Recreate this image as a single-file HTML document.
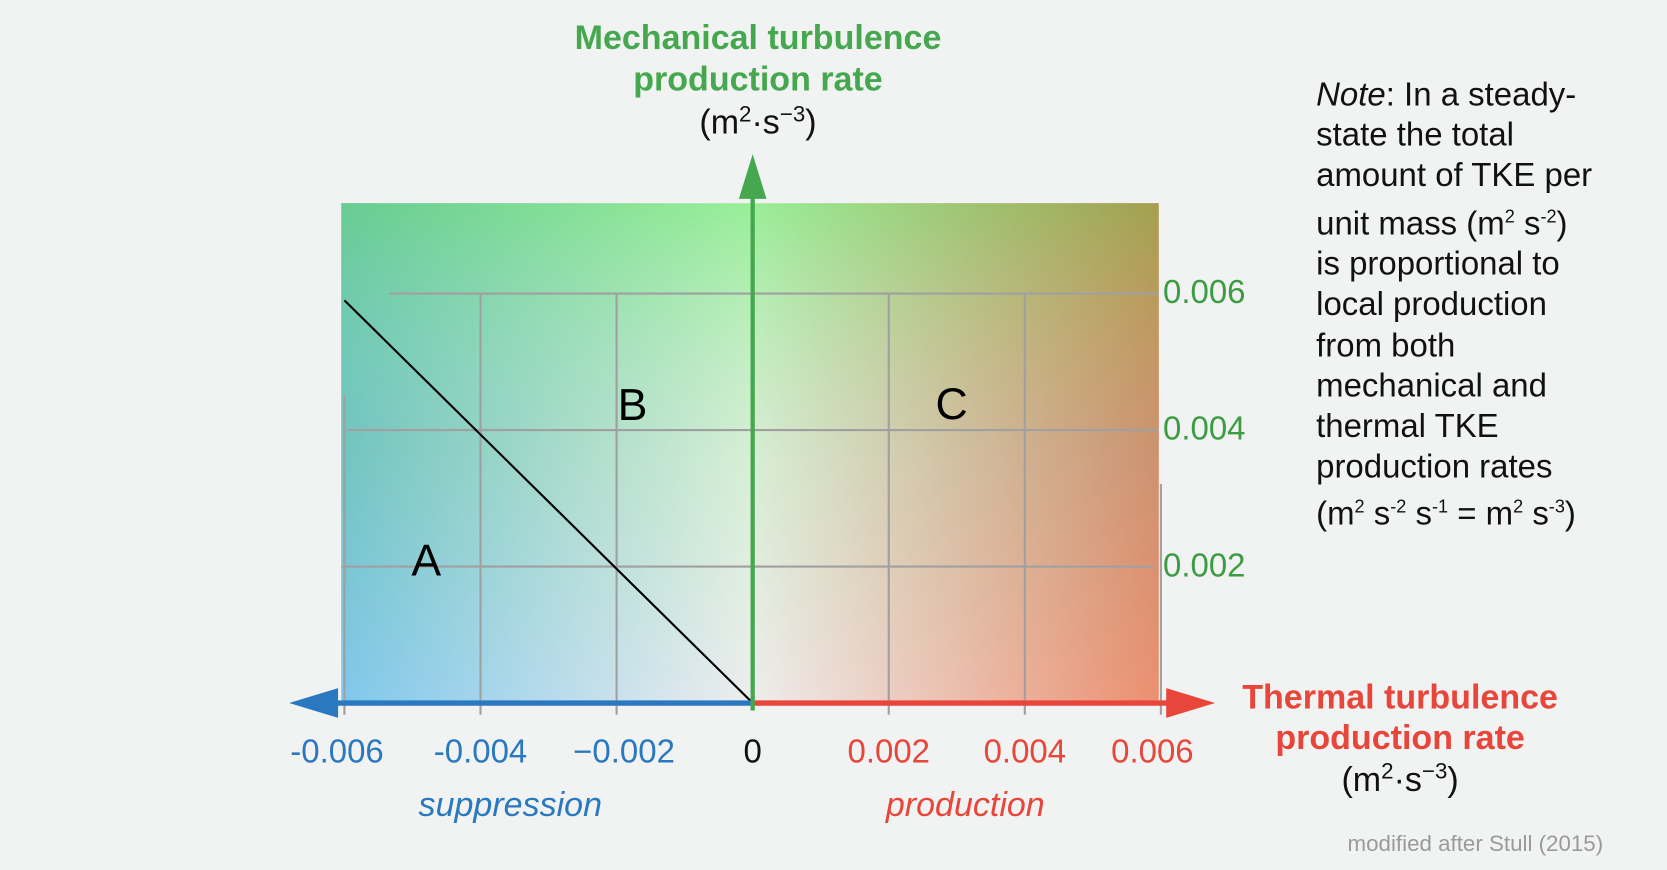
<!DOCTYPE html>
<html><head><meta charset="utf-8">
<style>
html,body{margin:0;padding:0;width:1667px;height:870px;overflow:hidden;background:#f1f2f2}
#wrap{position:absolute;left:0;top:0;width:1568px;height:818px;transform:scale(1.0631,1.0636);transform-origin:0 0;font-family:"Liberation Sans",sans-serif}
.t{position:absolute;white-space:nowrap}
</style></head><body>
<div id="wrap">
<svg id="svg" width="1568" height="818" style="position:absolute;left:0;top:0">
<defs>
<linearGradient id="gTop" x1="0" x2="1" y1="0" y2="0">
<stop offset="0" stop-color="#68cc90"/><stop offset="0.5" stop-color="#98ee98"/><stop offset="1" stop-color="#a2a050"/></linearGradient>
<linearGradient id="gMid" x1="0" x2="1" y1="0" y2="0">
<stop offset="0" stop-color="#72c4c0"/><stop offset="0.5" stop-color="#d6eed4"/><stop offset="1" stop-color="#cc9270"/></linearGradient>
<linearGradient id="gBot" x1="0" x2="1" y1="0" y2="0">
<stop offset="0" stop-color="#80c8ec"/><stop offset="0.5" stop-color="#eeeeee"/><stop offset="1" stop-color="#ec9070"/></linearGradient>
<linearGradient id="mTop" x1="0" x2="0" y1="0" y2="1">
<stop offset="0" stop-color="#fff"/><stop offset="0.5" stop-color="#000"/></linearGradient>
<linearGradient id="mMid" x1="0" x2="0" y1="0" y2="1">
<stop offset="0" stop-color="#000"/><stop offset="0.5" stop-color="#fff"/><stop offset="1" stop-color="#000"/></linearGradient>
<mask id="maskTop"><rect x="321" y="191" width="769" height="470" fill="url(#mTop)"/></mask>
<mask id="maskMid"><rect x="321" y="191" width="769" height="470" fill="url(#mMid)"/></mask>
</defs>
<rect x="321" y="191" width="769" height="470" fill="url(#gBot)"/>
<rect x="321" y="191" width="769" height="470" fill="url(#gMid)" mask="url(#maskMid)"/>
<rect x="321" y="191" width="769" height="470" fill="url(#gTop)" mask="url(#maskTop)"/>
<g id="grid"></g>
<g id="marks"></g>
</svg>
<div class="t" style="left:513px;top:16px;width:400px;text-align:center;color:#45a84e;font-weight:bold;font-size:32px;line-height:39px">Mechanical turbulence<br>production rate</div>
<div class="t" style="left:513px;top:96px;width:400px;text-align:center;color:#111;font-size:32px">(m<sup style="font-size:21px">2</sup>·s<sup style="font-size:21px">−3</sup>)</div>
<div class="t" style="left:1117px;top:636px;width:400px;text-align:center;color:#e8463a;font-weight:bold;font-size:32px;line-height:38px">Thermal turbulence<br>production rate</div>
<div class="t" style="left:1117px;top:714px;width:400px;text-align:center;color:#111;font-size:32px">(m<sup style="font-size:21px">2</sup>·s<sup style="font-size:21px">−3</sup>)</div>
<div class="t" style="left:330px;top:738px;width:300px;text-align:center;color:#2a78c0;font-style:italic;font-size:32px">suppression</div>
<div class="t" style="left:758px;top:738px;width:300px;text-align:center;color:#e8463a;font-style:italic;font-size:32px">production</div>
<div class="t" style="left:1238px;top:70px;color:#111;font-size:31px;line-height:38.2px"><i>Note</i>: In a steady-<br>state the total<br>amount of TKE per<br>unit mass (m<sup style="font-size:17px">2</sup> s<sup style="font-size:17px">-2</sup>)<br>is proportional to<br>local production<br>from both<br>mechanical and<br>thermal TKE<br>production rates<br>(m<sup style="font-size:17px">2</sup> s<sup style="font-size:17px">-2</sup> s<sup style="font-size:17px">-1</sup> = m<sup style="font-size:17px">2</sup> s<sup style="font-size:17px">-3</sup>)</div>
<div class="t" style="right:60px;top:782px;color:#9a9a9a;font-size:21px">modified after Stull (2015)</div>
<div class="t" style="left:387px;top:503px;font-size:42px;color:#000">A</div>
<div class="t" style="left:581px;top:357px;font-size:42px;color:#000">B</div>
<div class="t" style="left:880px;top:356px;font-size:42px;color:#000">C</div>
</div>
<script>
const xTicks=[-0.006,-0.004,-0.002,0,0.002,0.004,0.006];
const xTickLabels=["-0.006","-0.004","\u22120.002","0","0.002","0.004","0.006"];
const yTicks=[0.002,0.004,0.006];
const yTickLabels=["0.002","0.004","0.006"];
const lineX=[-0.006,0];
const lineY=[0.0059,0];
const X=v=>708+v*(384/0.006);
const Y=v=>661-v*(385/0.006);
const NS="http://www.w3.org/2000/svg";
const grid=document.getElementById('grid'),marks=document.getElementById('marks'),wrap=document.getElementById('wrap');
function mk(tag,attrs,parent){const e=document.createElementNS(NS,tag);for(const k in attrs)e.setAttribute(k,attrs[k]);parent.appendChild(e);return e;}
yTicks.forEach((v,i)=>{
 const x1=i===2?366:(i===1?326:321), x2=i===0?1085:1090;
 const l=mk('line',{x1:x1,x2:x2,y1:Y(v),y2:Y(v),stroke:'#a0a0a0','stroke-width':2},grid);
 
 
 const d=document.createElement('div');d.className='t';
 
 
 d.style.cssText='left:1094px;top:'+(Y(v)-19)+'px;color:#3c9c44;font-size:31px';d.textContent=yTickLabels[i];wrap.appendChild(d);
});
xTicks.forEach((v,i)=>{
 if(v!==0){
  let y1=Y(0.006);
  if(i===0)y1=372; if(i===6)y1=455;
  const l=mk('line',{x1:X(v),x2:X(v),y1:y1,y2:672,stroke:'#a0a0a0','stroke-width':2},grid);
  
  
 }
 const d=document.createElement('div');d.className='t';
 
 
 const col=v<0?'#2a78c0':(v>0?'#e8463a':'#111');
 const off=(i===0?-7:(i===6?-8:(i===2?7:0)));
 d.style.cssText='left:'+(X(v)-70+off)+'px;width:140px;text-align:center;top:689px;color:'+col+';font-size:31px';d.textContent=xTickLabels[i];wrap.appendChild(d);
});
const dl=mk('line',{x1:X(lineX[0]),y1:Y(lineY[0]),x2:X(lineX[1]),y2:Y(lineY[1]),stroke:'#000','stroke-width':2},marks);


const ba=mk('line',{x1:708,y1:661,x2:310,y2:661,stroke:'#2a78c0','stroke-width':5},marks);


const bh=mk('polygon',{points:'272,661 318,647 318,675',fill:'#2a78c0'},marks);


const ra=mk('line',{x1:708,y1:661,x2:1100,y2:661,stroke:'#e8463a','stroke-width':5},marks);


const rh=mk('polygon',{points:'1143,661 1097,647 1097,675',fill:'#e8463a'},marks);


const ga=mk('line',{x1:708,y1:668,x2:708,y2:180,stroke:'#45a84e','stroke-width':4},marks);


const gh=mk('polygon',{points:'708,145 695,187 721,187',fill:'#45a84e'},marks);


</script>
</body></html>
